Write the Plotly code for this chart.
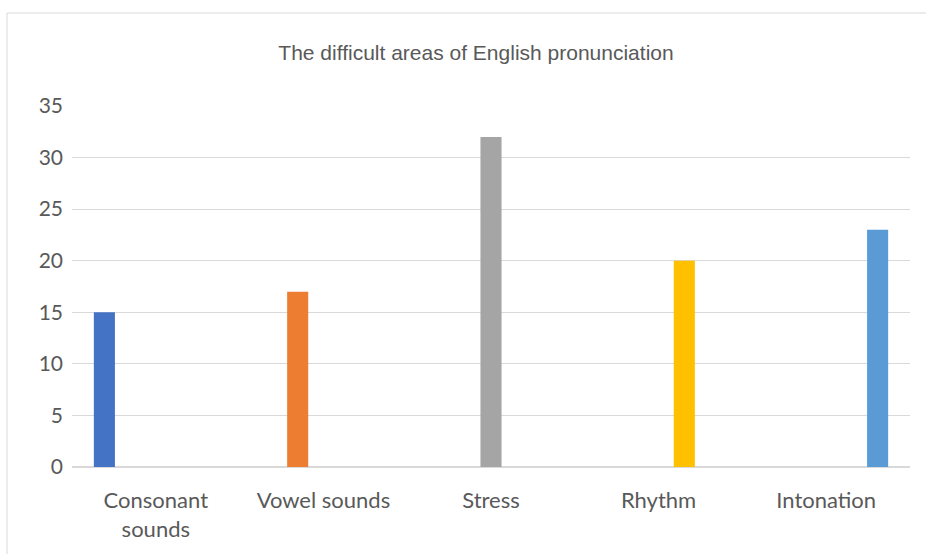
import plotly.graph_objects as go

categories = ["Consonant<br>sounds", "Vowel sounds", "Stress", "Rhythm", "Intonation"]
values = [15, 17, 32, 20, 23]
colors = ["#4472C4", "#ED7D31", "#A5A5A5", "#FFC000", "#5B9BD5"]
y_ticks = [0, 5, 10, 15, 20, 25, 30, 35]

W, H = 926, 554
L, R, T, B = 72, 16, 106, 87
pw, ph = W - L - R, H - T - B

fig = go.Figure()
for i, (cat, val, col) in enumerate(zip(categories, values, colors)):
    ys = [val if j == i else None for j in range(len(categories))]
    fig.add_trace(go.Bar(x=categories, y=ys, marker_color=col, marker_line_width=0,
                         name=cat, showlegend=False))

def px_to_paper_x(px):
    return (px - L) / pw

def py_to_paper_y(py):
    return (H - B - py) / ph

fig.add_shape(type="rect", xref="paper", yref="paper",
              x0=px_to_paper_x(7), x1=px_to_paper_x(940),
              y0=py_to_paper_y(570), y1=py_to_paper_y(13),
              line=dict(color="#d9d9d9", width=1), fillcolor="rgba(0,0,0,0)", layer="below")

fig.update_layout(
    width=W, height=H,
    margin=dict(l=L, r=R, t=T, b=B),
    paper_bgcolor="white", plot_bgcolor="white",
    barmode="group", bargap=0.233, bargroupgap=0.18,
    title=dict(text="The difficult areas of English pronunciation",
               x=476 / W, xanchor="center", y=1 - 53 / H, yanchor="middle",
               font=dict(family="Liberation Sans, Arial", size=21, color="#595959")),
    font=dict(family="Lato, Open Sans", color="#595959"),
    xaxis=dict(showgrid=False, showline=True, linecolor="#d9d9d9", linewidth=1,
               ticks="", ticklabelstandoff=14,
               tickfont=dict(size=22, color="#595959"), fixedrange=True),
    yaxis=dict(range=[0, 35], tickvals=y_ticks, showgrid=True, gridcolor="#d9d9d9",
               gridwidth=1, zeroline=True, zerolinecolor="#d9d9d9", showline=False,
               ticks="", ticklabelstandoff=8,
               tickfont=dict(size=21, color="#595959"), fixedrange=True),
)

fig.write_html("out.html")
